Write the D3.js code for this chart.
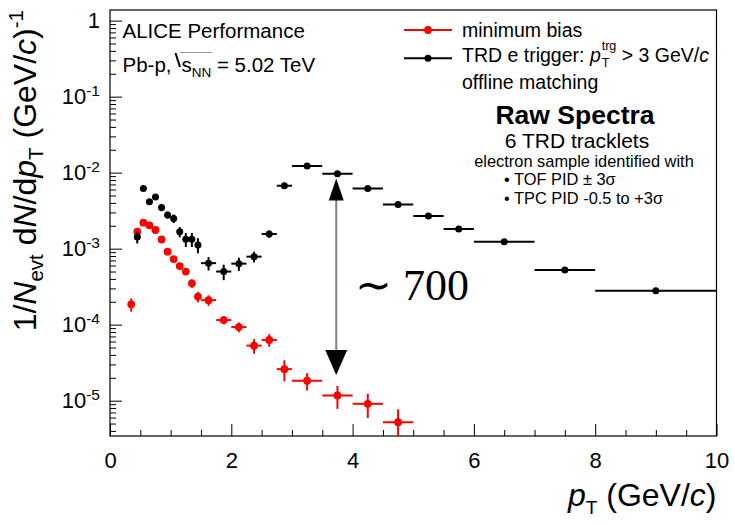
<!DOCTYPE html>
<html>
<head>
<meta charset="utf-8">
<script src="https://cdn.jsdelivr.net/npm/d3@7"></script>
<style>
  body { margin: 0; background: #fff; }
  svg { display: block; font-family: "Liberation Sans", Arial, Helvetica, sans-serif; }
  text { fill: #000; }
</style>
</head>
<body>
<svg id="chart" width="735" height="525"></svg>
<script>
// Minimum-bias spectrum: bin edges, yields and statistical errors
const mbEdges  = [0.3, 0.4, 0.5, 0.6, 0.7, 0.8, 0.9, 1.0, 1.1, 1.2, 1.3, 1.4, 1.5,
                  1.75, 2.0, 2.25, 2.5, 2.75, 3.0, 3.5, 4.0, 4.5, 5.0];
const mbValues = [1.85e-4, 1.67e-3, 2.2e-3, 2.03e-3, 1.76e-3, 1.32e-3, 9.1e-4, 7.3e-4,
                  5.9e-4, 5.0e-4, 3.5e-4, 2.34e-4, 2.1e-4, 1.15e-4, 9.3e-5, 5.3e-5,
                  6.3e-5, 2.6e-5, 1.83e-5, 1.17e-5, 9.1e-6, 5.2e-6];
const mbErrors = [3.7e-5, 1.0e-4, 1.0e-4, 1.0e-4, 9e-5, 8e-5, 6e-5, 5e-5,
                  4e-5, 4e-5, 4.5e-5, 3.7e-5, 3.3e-5, 1.4e-5, 1.36e-5, 1.15e-5,
                  1.2e-5, 8e-6, 4.7e-6, 3.9e-6, 3.2e-6, 2.5e-6];

// TRD electron-triggered spectrum
const trdEdges  = [0.4, 0.5, 0.6, 0.7, 0.8, 0.9, 1.0, 1.1, 1.2, 1.3, 1.4, 1.5,
                   1.75, 2.0, 2.25, 2.5, 2.75, 3.0, 3.5, 4.0, 4.5, 5.0, 5.5, 6.0,
                   7.0, 8.0, 10.0];
const trdValues = [1.42e-3, 6.2e-3, 4.15e-3, 4.8e-3, 3.47e-3, 2.77e-3, 2.5e-3, 1.67e-3,
                   1.33e-3, 1.33e-3, 1.12e-3, 6.45e-4, 5.0e-4, 6.35e-4, 7.85e-4, 1.56e-3,
                   6.7e-3, 1.22e-2, 9.7e-3, 6.2e-3, 3.8e-3, 2.69e-3, 1.82e-3, 1.23e-3,
                   5.25e-4, 2.8e-4];
const trdErrors = [2.5e-4, 3e-4, 2.5e-4, 2.8e-4, 3.6e-4, 2.9e-4, 3.2e-4, 2.6e-4,
                   2.8e-4, 2.8e-4, 2.5e-4, 1.3e-4, 1.15e-4, 1.25e-4, 1.25e-4, 1.8e-4,
                   3e-4, 4e-4, 3e-4, 2e-4, 1.2e-4, 8e-5, 5e-5, 3e-5,
                   1.5e-5, 8e-6];

// Axis ticks
const xMajorTicks = [0, 2, 4, 6, 8, 10];
const yDecadeExponents = [0, -1, -2, -3, -4, -5];

// Double arrow marking the trigger enhancement
const arrowPt = 3.73;
const arrowTop = 8.4e-3;
const arrowBottom = 2.18e-5;
const enhancementLabel = "700";

const svg = d3.select("#chart");
const W = 735, H = 525;
const fLeft = 110, fRight = 716.5, fTop = 10, fBottom = 436;

const x = d3.scaleLinear().domain([0, 10]).range([fLeft, fRight]);
const y = d3.scaleLog().domain([3.43e-6, 1.38]).range([fBottom, fTop]);

svg.append("rect").attr("width", W).attr("height", H).attr("fill", "#fff");

// ---- axes ----
const xMinor = d3.range(0.5, 10, 0.5).filter(v => Math.abs(v / 2 - Math.round(v / 2)) > 1e-6);
svg.append("g").attr("transform", `translate(0,${fBottom})`)
  .call(d3.axisBottom(x).tickValues(xMinor).tickSizeInner(-6).tickSizeOuter(0).tickFormat(""))
  .call(g => g.select(".domain").remove());
const gx = svg.append("g").attr("transform", `translate(0,${fBottom})`)
  .call(d3.axisBottom(x).tickValues(xMajorTicks).tickSizeInner(-12).tickSizeOuter(0)
        .tickPadding(16).tickFormat(d3.format("d")));
gx.select(".domain").remove();
gx.attr("font-family", null).attr("font-size", null);
gx.selectAll("text").attr("font-size", 22).attr("fill", "#000");

const yMajor = yDecadeExponents.map(e => Math.pow(10, e));
const yMinor = [];
for (let e = -6; e <= 0; e++) for (let m = 2; m <= 9; m++) {
  const v = m * Math.pow(10, e);
  if (v >= y.domain()[0] && v <= y.domain()[1]) yMinor.push(v);
}
svg.append("g").attr("transform", `translate(${fLeft},0)`)
  .call(d3.axisLeft(y).tickValues(yMinor).tickSizeInner(-6).tickSizeOuter(0).tickFormat(""))
  .call(g => g.select(".domain").remove());
const gy = svg.append("g").attr("transform", `translate(${fLeft},0)`)
  .call(d3.axisLeft(y).tickValues(yMajor).tickSizeInner(-12).tickSizeOuter(0).tickPadding(10)
        .tickFormat(() => ""));
gy.select(".domain").remove();
gy.attr("font-family", null).attr("font-size", null);
gy.selectAll(".tick text")
  .attr("font-size", 22).attr("fill", "#000")
  .each(function(d) {
    const t = d3.select(this);
    const e = Math.round(Math.log10(d));
    if (e === 0) { t.text("1"); return; }
    t.append("tspan").text("10");
    t.append("tspan").attr("font-size", 15.5).attr("dy", "-0.55em").text(String(e));
  });
svg.selectAll(".tick line").attr("stroke", "#000").attr("stroke-width", 1);

// frame
svg.append("rect").attr("x", fLeft).attr("y", fTop)
  .attr("width", fRight - fLeft).attr("height", fBottom - fTop)
  .attr("fill", "none").attr("stroke", "#000").attr("stroke-width", 1.2);

// ---- axis titles ----
const xt = svg.append("text").attr("x", fRight).attr("y", 506)
  .attr("text-anchor", "end").attr("font-size", 32);
xt.append("tspan").attr("font-style", "italic").text("p");
xt.append("tspan").attr("font-size", 19).attr("dy", 8).text("T");
xt.append("tspan").attr("dy", -8).text(" (GeV/");
xt.append("tspan").attr("font-style", "italic").text("c");
xt.append("tspan").text(")");

const yt = svg.append("text").attr("transform", `translate(36,${fTop}) rotate(-90)`)
  .attr("text-anchor", "end").attr("font-size", 32);
yt.append("tspan").text("1/");
yt.append("tspan").attr("font-style", "italic").text("N");
yt.append("tspan").attr("font-size", 20.5).attr("dy", 7).text("evt");
yt.append("tspan").attr("dy", -7).text(" d");
yt.append("tspan").attr("font-style", "italic").text("N");
yt.append("tspan").text("/d");
yt.append("tspan").attr("font-style", "italic").text("p");
yt.append("tspan").attr("font-size", 20.5).attr("dy", 7).text("T");
yt.append("tspan").attr("dy", -7).text(" (GeV/");
yt.append("tspan").attr("font-style", "italic").text("c");
yt.append("tspan").text(")");
yt.append("tspan").attr("font-size", 20.5).attr("dy", -13).text("-1");

// ---- data ----
svg.append("clipPath").attr("id", "frameClip").append("rect")
  .attr("x", fLeft).attr("y", fTop).attr("width", fRight - fLeft).attr("height", fBottom - fTop);
const plot = svg.append("g").attr("clip-path", "url(#frameClip)");

function drawSeries(edges, values, errors, color, r) {
  const pts = values.map((v, i) => ({
    lo: edges[i], hi: edges[i + 1], c: (edges[i] + edges[i + 1]) / 2, v, e: errors[i]
  }));
  const g = plot.append("g");
  g.selectAll("line.h").data(pts).join("line").attr("class", "h")
    .attr("x1", d => x(d.lo)).attr("x2", d => x(d.hi))
    .attr("y1", d => y(d.v)).attr("y2", d => y(d.v))
    .attr("stroke", color).attr("stroke-width", 2);
  g.selectAll("line.v").data(pts).join("line").attr("class", "v")
    .attr("x1", d => x(d.c)).attr("x2", d => x(d.c))
    .attr("y1", d => y(d.v + d.e))
    .attr("y2", d => d.v - d.e > y.domain()[0] ? y(d.v - d.e) : fBottom)
    .attr("stroke", color).attr("stroke-width", 2);
  g.selectAll("circle").data(pts).join("circle")
    .attr("cx", d => x(d.c)).attr("cy", d => y(d.v)).attr("r", r).attr("fill", color);
}
drawSeries(mbEdges, mbValues, mbErrors, "#ff0000", 3.9);
drawSeries(trdEdges, trdValues, trdErrors, "#000000", 3.5);

// ---- enhancement arrow ----
const ax = x(arrowPt), yTip1 = y(arrowTop), yTip2 = y(arrowBottom);
svg.append("line").attr("x1", ax).attr("x2", ax).attr("y1", yTip1 + 10).attr("y2", yTip2 - 10)
  .attr("stroke", "#808080").attr("stroke-width", 2);
svg.append("path").attr("d", `M${ax},${yTip1} L${ax - 7.5},${yTip1 + 22} L${ax + 7.5},${yTip1 + 22} Z`)
  .attr("fill", "#000");
svg.append("path").attr("d", `M${ax},${yTip2} L${ax - 11},${yTip2 - 25} L${ax + 11},${yTip2 - 25} Z`)
  .attr("fill", "#000");
svg.append("text").attr("x", 355).attr("y", 300)
  .style("font-family", "'Liberation Serif','Times New Roman',serif").attr("font-size", 44)
  .text("\u223C " + enhancementLabel);

// ---- header texts ----
svg.append("text").attr("x", 122.5).attr("y", 38).attr("font-size", 20.5).text("ALICE Performance");

const pb = svg.append("text").attr("x", 122.5).attr("y", 72).attr("font-size", 20.5).text("Pb-p,");
const pbW = pb.node().getComputedTextLength();
const rx = 122.5 + pbW + 4;
svg.append("path").attr("d", `M${rx},53 L${rx + 4.5},67`).attr("stroke", "#000").attr("stroke-width", 2).attr("fill", "none");
const sn = svg.append("text").attr("x", rx + 6).attr("y", 72).attr("font-size", 20.5);
sn.append("tspan").text("s");
sn.append("tspan").attr("font-size", 13.5).attr("dy", 5).text("NN");
sn.append("tspan").attr("dy", -5).text(" = 5.02 TeV");
const snSpans = sn.selectAll("tspan").nodes();
const sW = snSpans[0].getComputedTextLength() + snSpans[1].getComputedTextLength();
svg.append("line").attr("x1", rx + 4.5).attr("x2", rx + 6 + sW + 1).attr("y1", 52.5).attr("y2", 52.5)
  .attr("stroke", "#999").attr("stroke-width", 1);

// ---- legend ----
const legend = [
  { color: "#ff0000", y: 30, r: 3.9 },
  { color: "#000000", y: 58.3, r: 3.5 }
];
legend.forEach(l => {
  svg.append("line").attr("x1", 404).attr("x2", 452).attr("y1", l.y).attr("y2", l.y)
    .attr("stroke", l.color).attr("stroke-width", 2);
  svg.append("circle").attr("cx", 428).attr("cy", l.y).attr("r", l.r).attr("fill", l.color);
});
svg.append("text").attr("x", 462).attr("y", 37).attr("font-size", 19.5).text("minimum bias");
const trg = svg.append("text").attr("x", 462).attr("y", 62).attr("font-size", 19.5);
trg.append("tspan").text("TRD e trigger: ");
trg.append("tspan").attr("font-style", "italic").text("p");
const subT = trg.append("tspan").attr("font-size", 12.5).attr("dx", 1).attr("dy", 5).text("T");
const supTrg = trg.append("tspan").attr("font-size", 12.5).attr("dy", -17).text("trg");
trg.append("tspan").attr("dy", 12).text(" > 3 GeV/");
trg.append("tspan").attr("font-style", "italic").text("c");
// stack the superscript above the subscript
supTrg.attr("dx", -subT.node().getComputedTextLength());
svg.append("text").attr("x", 462).attr("y", 89).attr("font-size", 19.5).text("offline matching");

svg.append("text").attr("x", 575).attr("y", 124).attr("text-anchor", "middle")
  .attr("font-size", 26.5).attr("font-weight", "bold").text("Raw Spectra");
svg.append("text").attr("x", 577).attr("y", 148).attr("text-anchor", "middle")
  .attr("font-size", 21).text("6 TRD tracklets");
svg.append("text").attr("x", 584).attr("y", 167).attr("text-anchor", "middle")
  .attr("font-size", 16.4).text("electron sample identified with");
svg.append("text").attr("x", 504).attr("y", 185).attr("font-size", 16.4).text("\u2022 TOF PID \u00B1 3\u03C3");
svg.append("text").attr("x", 504).attr("y", 203.5).attr("font-size", 16.4).text("\u2022 TPC PID -0.5 to +3\u03C3");
</script>
</body>
</html>
